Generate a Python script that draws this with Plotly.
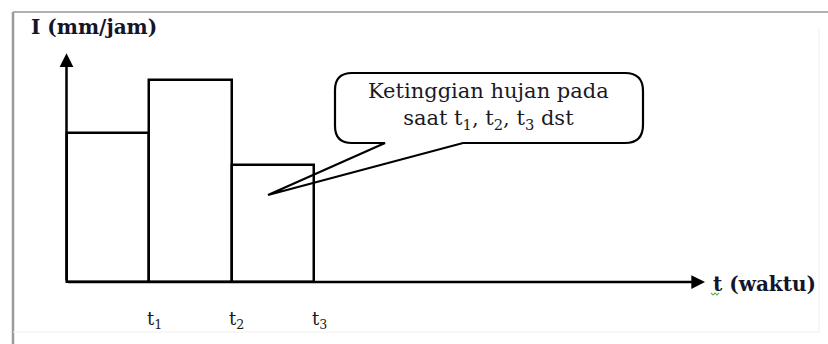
import plotly.graph_objects as go

# Rainfall intensity per time interval (hyetograph blocks)
tick_labels = ["t<sub>1</sub>", "t<sub>2</sub>", "t<sub>3</sub>"]
interval_start = [0, 1, 2]
intensity = [29.5, 40.0, 23.2]          # mm/jam
axis_len_t = 7.74                        # length of the time axis arrow
axis_len_i = 45.3                        # length of the intensity axis arrow

y_title = "I (mm/jam)"
x_title = "t (waktu)"
callout_lines = ["Ketinggian hujan pada", "saat t<sub>1</sub>, t<sub>2</sub>, t<sub>3</sub> dst"]

W, H = 828, 344
ORIGIN_PX = (66.5, 282.0)   # pixel position of (t=0, I=0)
PX_PER_T = 82.5
PX_PER_I = 5.05

x_range = [-ORIGIN_PX[0] / PX_PER_T, (W - ORIGIN_PX[0]) / PX_PER_T]
y_range = [-(H - ORIGIN_PX[1]) / PX_PER_I, ORIGIN_PX[1] / PX_PER_I]


def dx(px):
    return (px - ORIGIN_PX[0]) / PX_PER_T


def dy(py):
    return (ORIGIN_PX[1] - py) / PX_PER_I


def paper(px, py):
    return px / W, 1 - py / H


fig = go.Figure()

fig.add_trace(go.Bar(
    x=[s + 0.5 for s in interval_start],
    y=intensity,
    width=1,
    marker=dict(color="white", line=dict(color="black", width=2.5)),
    hoverinfo="skip",
    showlegend=False,
))

annotations = []

# axes drawn as arrows from the origin
for tip in [(axis_len_t, 0), (0, axis_len_i)]:
    annotations.append(dict(
        x=tip[0], y=tip[1], ax=0, ay=0, xref="x", yref="y", axref="x", ayref="y",
        text="", showarrow=True, arrowhead=2, arrowsize=1.1, arrowwidth=2.5,
        arrowcolor="black", standoff=0,
    ))

# interval boundary labels under the time axis
for i, lab in enumerate(tick_labels):
    annotations.append(dict(
        x=interval_start[i] + 1, y=dy(320), xref="x", yref="y", text=lab,
        showarrow=False, xshift=5,
        font=dict(family="DejaVu Serif", size=18, color="#1a1a1a"),
    ))

# axis titles
px, py = paper(29, 27)
annotations.append(dict(
    x=px, y=py, xref="paper", yref="paper", xanchor="left", yanchor="middle",
    text=f"<b>{y_title}</b>", showarrow=False,
    font=dict(family="DejaVu Serif", size=20, color="#14142a"),
))
px, py = paper(711, 284)
annotations.append(dict(
    x=px, y=py, xref="paper", yref="paper", xanchor="left", yanchor="middle",
    text=f"<b>{x_title}</b>", showarrow=False,
    font=dict(family="DejaVu Serif", size=20, color="#14142a"),
))

# callout text
px, py = paper(489, 106)
annotations.append(dict(
    x=px, y=py, xref="paper", yref="paper", xanchor="center", yanchor="middle",
    text="<br>".join(callout_lines), showarrow=False, align="center",
    font=dict(family="DejaVu Serif", size=21, color="#1a1a26"),
))

shapes = []

# speech bubble pointing into the third block (outline only, so the block edge shows through)
pts = [
    ("M", 352, 73), ("L", 625, 73), ("Q", 643, 73, 643, 91), ("L", 643, 125),
    ("Q", 643, 143, 625, 143), ("L", 463, 143), ("L", 268, 195), ("L", 385, 143),
    ("L", 352, 143), ("Q", 335, 143, 335, 126), ("L", 335, 90), ("Q", 335, 73, 352, 73),
]
path = ""
for p in pts:
    cmd, coords = p[0], p[1:]
    parts = []
    for j in range(0, len(coords), 2):
        parts.append(f"{dx(coords[j]):.4f},{dy(coords[j + 1]):.4f}")
    path += cmd + " ".join(parts) + " "
path += "Z"
shapes.append(dict(type="path", path=path, xref="x", yref="y",
                   line=dict(color="black", width=2.2), fillcolor="rgba(0,0,0,0)", layer="above"))

# picture frame
def pline(x0, y0, x1, y1, color, width):
    a = paper(x0, y0)
    b = paper(x1, y1)
    return dict(type="line", xref="paper", yref="paper", x0=a[0], y0=a[1], x1=b[0], y1=b[1],
                line=dict(color=color, width=width), layer="below")

shapes.append(pline(13, 12, 828, 12, "#b0b0b0", 2))
shapes.append(pline(13, 12, 13, 344, "#9a9a9a", 2.5))
shapes.append(pline(819, 28, 819, 332, "#f0f0f0", 1))
shapes.append(pline(13, 332, 819, 332, "#f0f0f0", 1))

# spell-check squiggle under the "t" of the time label
sq = [(711, 293), (713, 295), (715, 293), (717, 295), (719, 293)]
sq_path = "M" + " L".join(f"{paper(a, b)[0]:.5f},{paper(a, b)[1]:.5f}" for a, b in sq)
shapes.append(dict(type="path", path=sq_path, xref="paper", yref="paper",
                   line=dict(color="#5cb85c", width=1.2)))

fig.update_layout(
    width=W, height=H,
    margin=dict(l=0, r=0, t=0, b=0),
    paper_bgcolor="white", plot_bgcolor="white",
    xaxis=dict(range=x_range, visible=False, fixedrange=True),
    yaxis=dict(range=y_range, visible=False, fixedrange=True),
    annotations=annotations,
    shapes=shapes,
    bargap=0,
)

fig.write_html("out.html")
